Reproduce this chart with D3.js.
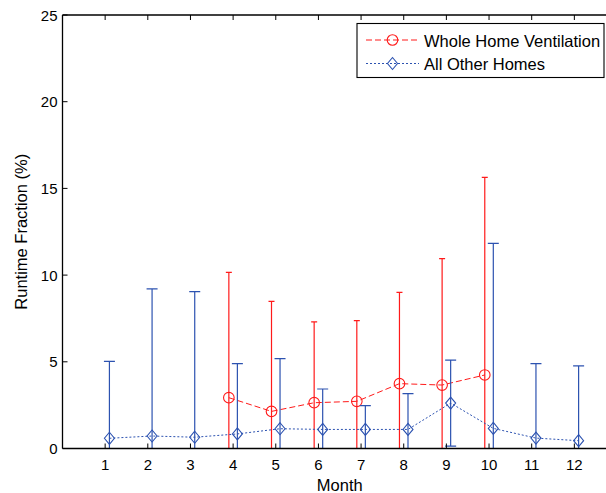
<!DOCTYPE html>
<html>
<head>
<meta charset="utf-8">
<script src="https://cdn.jsdelivr.net/npm/d3@7"></script>
<style>
  html, body { margin: 0; padding: 0; background: #fff; }
  svg { display: block; font-family: "Liberation Sans", Arial, Helvetica, sans-serif; }
</style>
</head>
<body>
<svg id="chart" width="606" height="493"></svg>
<script>
// Monthly runtime fraction (%) with symmetric error bars
const months = [1, 2, 3, 4, 5, 6, 7, 8, 9, 10, 11, 12];

const wholeHomeMonths = [4, 5, 6, 7, 8, 9, 10];
const wholeHomeMean   = [2.93, 2.14, 2.64, 2.72, 3.74, 3.66, 4.24];
const wholeHomeUpper  = [10.16, 8.49, 7.30, 7.37, 9.00, 10.95, 15.64];

const otherMean  = [0.59, 0.72, 0.65, 0.84, 1.14, 1.10, 1.10, 1.10, 2.62, 1.16, 0.60, 0.45];
const otherUpper = [5.03, 9.20, 9.05, 4.89, 5.18, 3.43, 2.47, 3.16, 5.10, 11.83, 4.89, 4.76];

const yTicks = [0, 5, 10, 15, 20, 25];
const xTicks = months;

const seriesNames = ["Whole Home Ventilation", "All Other Homes"];
const redColor = "#ff1a1a";
const blueColor = "#2c52b0";

const svg = d3.select("#chart");
const plotLeft = 62.5, plotRight = 617, plotTop = 15, plotBottom = 448.5;

const x = d3.scaleLinear().domain([0, 13]).range([plotLeft, plotRight]);
const y = d3.scaleLinear().domain([0, 25]).range([plotBottom, plotTop]);

const red = wholeHomeMonths.map((m, i) => ({
  x: m - 0.1, mean: wholeHomeMean[i], err: wholeHomeUpper[i] - wholeHomeMean[i]
}));
const blue = months.map((m, i) => ({
  x: m + 0.1, mean: otherMean[i], err: otherUpper[i] - otherMean[i]
}));

svg.append("defs").append("clipPath").attr("id", "plotclip")
  .append("rect").attr("x", plotLeft).attr("y", plotTop)
  .attr("width", plotRight - plotLeft).attr("height", plotBottom - plotTop);

const plot = svg.append("g").attr("clip-path", "url(#plotclip)");

function drawSeries(data, color, dash, capHalf, markerFn) {
  const g = plot.append("g");
  // error bars
  data.forEach(d => {
    const lo = d.mean - d.err, hi = d.mean + d.err;
    g.append("line")
      .attr("x1", x(d.x)).attr("x2", x(d.x))
      .attr("y1", y(lo)).attr("y2", y(hi))
      .attr("stroke", color).attr("stroke-width", 1.2);
    [lo, hi].forEach(v => {
      g.append("line")
        .attr("x1", x(d.x) - capHalf).attr("x2", x(d.x) + capHalf)
        .attr("y1", y(v)).attr("y2", y(v))
        .attr("stroke", color).attr("stroke-width", 1.2);
    });
  });
  // connecting line
  g.append("path")
    .datum(data)
    .attr("d", d3.line().x(d => x(d.x)).y(d => y(d.mean)))
    .attr("fill", "none").attr("stroke", color)
    .attr("stroke-width", 1).attr("stroke-dasharray", dash);
  // markers
  data.forEach(d => markerFn(g, x(d.x), y(d.mean), color));
}

function circleMarker(g, cx, cy, color) {
  g.append("circle").attr("cx", cx).attr("cy", cy).attr("r", 5.3)
    .attr("fill", "none").attr("stroke", color).attr("stroke-width", 1.1);
}
function diamondMarker(g, cx, cy, color) {
  const s = 6;
  g.append("path")
    .attr("d", `M${cx},${cy - s}L${cx + s - 1},${cy}L${cx},${cy + s}L${cx - s + 1},${cy}Z`)
    .attr("fill", "none").attr("stroke", color).attr("stroke-width", 1.1);
}

drawSeries(red, redColor, "6,3", 3, circleMarker);
drawSeries(blue, blueColor, "2,2", 5.5, diamondMarker);

// axes
const axes = svg.append("g");
axes.append("line").attr("x1", plotLeft).attr("x2", plotRight).attr("y1", plotBottom).attr("y2", plotBottom)
  .attr("stroke", "#000").attr("stroke-width", 1.3);
axes.append("line").attr("x1", plotLeft).attr("x2", plotRight).attr("y1", plotTop).attr("y2", plotTop)
  .attr("stroke", "#000").attr("stroke-width", 1.3);
axes.append("line").attr("x1", plotLeft).attr("x2", plotLeft).attr("y1", plotTop).attr("y2", plotBottom)
  .attr("stroke", "#000").attr("stroke-width", 1.3);

const tickLen = 5;
const tickFont = 15, labelFont = 16.5;
xTicks.forEach(t => {
  axes.append("line").attr("x1", x(t)).attr("x2", x(t)).attr("y1", plotBottom).attr("y2", plotBottom - tickLen)
    .attr("stroke", "#000");
  axes.append("line").attr("x1", x(t)).attr("x2", x(t)).attr("y1", plotTop).attr("y2", plotTop + tickLen)
    .attr("stroke", "#000");
  axes.append("text").attr("x", x(t)).attr("y", plotBottom + 21)
    .attr("text-anchor", "middle").attr("font-size", tickFont).text(t);
});
yTicks.forEach(t => {
  axes.append("line").attr("x1", plotLeft).attr("x2", plotLeft + tickLen).attr("y1", y(t)).attr("y2", y(t))
    .attr("stroke", "#000");
  axes.append("text").attr("x", plotLeft - 5).attr("y", y(t) + 5.5)
    .attr("text-anchor", "end").attr("font-size", tickFont).text(t);
});

axes.append("text").attr("x", (plotLeft + plotRight) / 2).attr("y", 491)
  .attr("text-anchor", "middle").attr("font-size", labelFont).text("Month");
axes.append("text")
  .attr("transform", `translate(27,${(plotTop + plotBottom) / 2}) rotate(-90)`)
  .attr("text-anchor", "middle").attr("font-size", labelFont).text("Runtime Fraction (%)");

// legend
const lg = svg.append("g");
lg.append("rect").attr("x", 357).attr("y", 23.5).attr("width", 247).attr("height", 54)
  .attr("fill", "#fff").attr("stroke", "#000").attr("stroke-width", 1.1);
const legendRows = [
  { name: seriesNames[0], color: redColor, dash: "6,3", marker: circleMarker, yy: 40 },
  { name: seriesNames[1], color: blueColor, dash: "2,2", marker: diamondMarker, yy: 63.5 }
];
legendRows.forEach(r => {
  lg.append("line").attr("x1", 366).attr("x2", 419).attr("y1", r.yy).attr("y2", r.yy)
    .attr("stroke", r.color).attr("stroke-width", 1).attr("stroke-dasharray", r.dash);
  r.marker(lg, 392.5, r.yy, r.color);
  lg.append("text").attr("x", 424).attr("y", r.yy + 6.5).attr("font-size", labelFont).text(r.name);
});
</script>
</body>
</html>
